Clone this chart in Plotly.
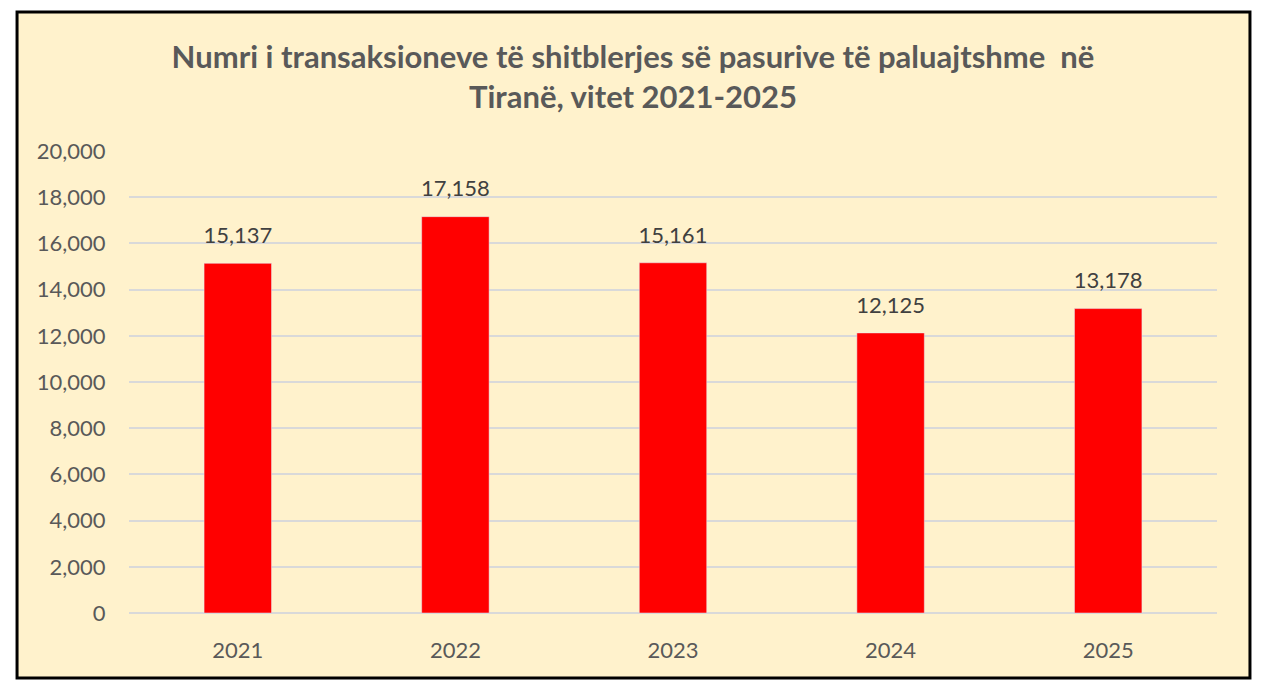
import plotly.graph_objects as go

# --- data ---
years = ["2021", "2022", "2023", "2024", "2025"]
transactions = [15137, 17158, 15161, 12125, 13178]
y_ticks = list(range(0, 20001, 2000))

title_text = ("Numri i transaksioneve të shitblerjes së pasurive të paluajtshme  në<br>"
              "Tiranë, vitet 2021-2025")

font_family = "Lato, 'Open Sans', sans-serif"

fig = go.Figure()
fig.add_trace(go.Bar(
    x=years,
    y=transactions,
    marker_color="#FF0000",
    width=0.31,
    hoverinfo="x+y",
))
# value labels: invisible markers push the text a bit above the bar tops
fig.add_trace(go.Scatter(
    x=years,
    y=transactions,
    mode="markers+text",
    marker=dict(size=22, opacity=0),
    text=[f"{v:,}" for v in transactions],
    textposition="top center",
    textfont=dict(size=22, color="#404040", family=font_family),
    cliponaxis=False,
    hoverinfo="skip",
))

fig.update_layout(
    width=1250,
    height=679,
    paper_bgcolor="white",
    plot_bgcolor="rgba(0,0,0,0)",
    margin=dict(l=121, r=41, t=143, b=74),
    showlegend=False,
    title=dict(
        text=title_text,
        x=0.5,
        xanchor="center",
        yref="container",
        y=1 - 59.5 / 679,
        yanchor="middle",
        font=dict(size=31, color="#595959", family=font_family, weight="bold"),
    ),
    # chart area fill and black frame
    shapes=[dict(
        type="rect", xref="paper", yref="paper", layer="below",
        x0=-0.1029, x1=1.0303,
        y0=-0.1407, y1=1.3009,
        fillcolor="#FFF2CC", line=dict(color="black", width=3),
    )],
)

fig.update_xaxes(
    type="category",
    showgrid=False,
    tickfont=dict(size=22, color="#595959", family=font_family),
    ticks="outside", ticklen=18, tickcolor="rgba(0,0,0,0)",
    showline=False,
)
fig.update_yaxes(
    range=[0, 20000],
    tickvals=y_ticks,
    tickformat=",",
    gridcolor="#D9D9D9",
    gridwidth=1.5,
    zeroline=True, zerolinecolor="#D9D9D9", zerolinewidth=1.5,
    tickfont=dict(size=22, color="#595959", family=font_family),
    ticks="outside", ticklen=18, tickcolor="rgba(0,0,0,0)",
)

fig.write_html("out.html")
